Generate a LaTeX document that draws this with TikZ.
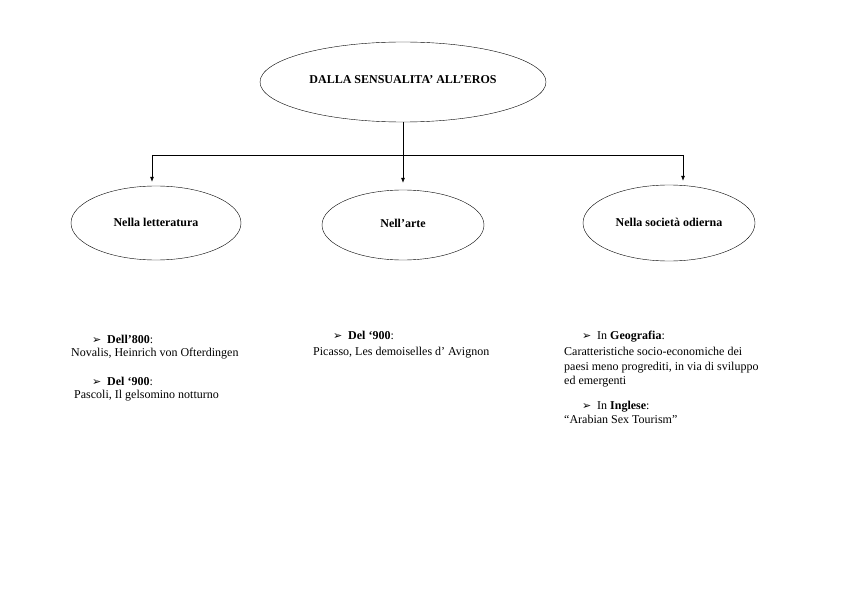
\documentclass[tikz,border=0pt]{standalone}
\usepackage{fontspec}
\setmainfont{Liberation Serif}
\newfontfamily\dingfont{DejaVu Sans}
\usetikzlibrary{shapes.geometric,arrows.meta}
\newcommand{\arrowbullet}{\makebox[15pt][l]{\dingfont\fontsize{11}{11}\selectfont ➢}}

\begin{document}
\begin{tikzpicture}[
        x=1pt, y=-1pt,
        oval/.style={
            ellipse,
            draw,
            thin,
            inner sep=0pt,
            font=\bfseries\fontsize{12}{14}\selectfont
        },
        txt/.style={
            anchor=base west,
            inner sep=0pt,
            font=\fontsize{12}{14}\selectfont
        },
        arrow/.style={-{Latex[length=5pt,width=4pt]}, semithick}
    ]
        \useasboundingbox (0,0) rectangle (842,596);

        \node[oval, minimum width=286pt, minimum height=80pt] (eros) at (403,82) {\raisebox{5pt}{DALLA SENSUALITA’ ALL’EROS}};
        \node[oval, minimum width=170pt, minimum height=74pt] (lett) at (156,223) {\raisebox{2pt}{Nella letteratura}};
        \node[oval, minimum width=162pt, minimum height=70pt] (arte) at (403,225) {\raisebox{4pt}{Nell’arte}};
        \node[oval, minimum width=172pt, minimum height=76pt] (soc) at (669,223) {\raisebox{1pt}{Nella società odierna}};

        \coordinate (jl) at (152,155);
        \coordinate (jr) at (683,155);

        \draw[semithick] (jl) -- (jr);
        \draw[arrow, shorten >=7pt] (eros.south) -- (arte.north);
        \draw[arrow, shorten >=4pt] (jl) -- (jl |- lett.north);
        \draw[arrow, shorten >=4pt] (jr) -- (jr |- soc.north);

        % letteratura
        \node[txt] (h800) at (92,343.5) {\arrowbullet\textbf{Dell’800}:};
        \node[txt] (novalis) at (71,356.5) {Novalis, Heinrich von Ofterdingen};
        \node[txt] (h900) at (92,385.5) {\arrowbullet\textbf{Del ‘900}:};
        \node[txt] (pascoli) at (74,398.5) {Pascoli, Il gelsomino notturno};

        % arte
        \node[txt] (harte) at (333,339.5) {\arrowbullet\textbf{Del ‘900}:};
        \node[txt] (picasso) at (313,355.5) {Picasso, Les demoiselles d’ Avignon};

        % societa
        \node[txt] (hgeo) at (582,339) {\arrowbullet In \textbf{Geografia}:};
        \node[txt] (geoa) at (564,355.5) {Caratteristiche socio-economiche dei};
        \node[txt] (geob) at (564,370) {paesi meno progrediti, in via di sviluppo};
        \node[txt] (geoc) at (564,384.5) {ed emergenti};
        \node[txt] (hing) at (582,409.5) {\arrowbullet In \textbf{Inglese}:};
        \node[txt] (ing) at (564,423.5) {“Arabian Sex Tourism”};

    \end{tikzpicture}
\end{document}
